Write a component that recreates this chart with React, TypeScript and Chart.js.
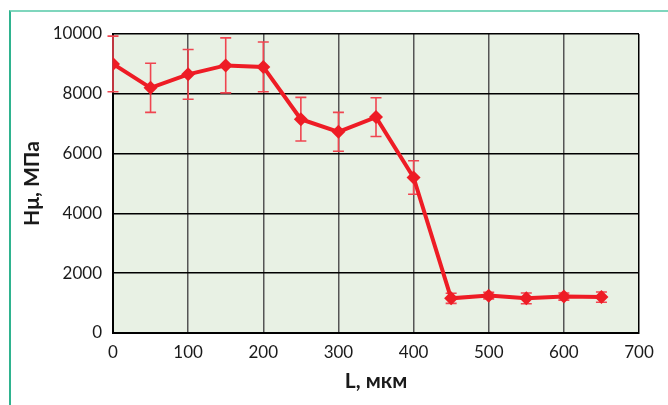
import React, { useEffect, useRef } from "react";
import { Chart, registerables } from "chart.js";

Chart.register(...registerables);

const lengths = [0, 50, 100, 150, 200, 250, 300, 350, 400, 450, 500, 550, 600, 650];
const hardness = [9000, 8200, 8650, 8950, 8900, 7150, 6730, 7220, 5200, 1160, 1250, 1160, 1220, 1200];
const errors = [930, 820, 830, 920, 830, 730, 650, 650, 560, 170, 110, 180, 120, 170];

const xTitle = "L, мкм";
const yTitle = "Hμ, МПа";

const FONT = "Lato, 'DejaVu Sans', sans-serif";

const bgPlugin = {
  id: "plotBg",
  beforeDraw(chart: any) {
    const { ctx, chartArea } = chart;
    if (!chartArea) return;
    ctx.save();
    ctx.fillStyle = "#e8f1e4";
    ctx.fillRect(chartArea.left, chartArea.top, chartArea.right - chartArea.left, chartArea.bottom - chartArea.top);
    ctx.restore();
  },
};

const errorBarPlugin = {
  id: "errorBars",
  beforeDatasetsDraw(chart: any) {
    const { ctx, scales } = chart;
    const xs = scales.x;
    const ys = scales.y;
    ctx.save();
    ctx.strokeStyle = "#ef4550";
    ctx.lineWidth = 1.6;
    for (let i = 0; i < lengths.length; i++) {
      const px = xs.getPixelForValue(lengths[i]);
      const top = ys.getPixelForValue(hardness[i] + errors[i]);
      const bot = ys.getPixelForValue(hardness[i] - errors[i]);
      ctx.beginPath();
      ctx.moveTo(px, top);
      ctx.lineTo(px, bot);
      ctx.moveTo(px - 5.5, top);
      ctx.lineTo(px + 5.5, top);
      ctx.moveTo(px - 5.5, bot);
      ctx.lineTo(px + 5.5, bot);
      ctx.stroke();
    }
    ctx.restore();
  },
};

export default function App() {
  const ref = useRef<HTMLCanvasElement | null>(null);

  useEffect(() => {
    if (!ref.current) return;
    const chart = new Chart(ref.current, {
      type: "line",
      data: {
        datasets: [
          {
            data: lengths.map((l, i) => ({ x: l, y: hardness[i] })),
            borderColor: "#ee1c25",
            backgroundColor: "#ee1c25",
            borderWidth: 4,
            pointStyle: "rectRot",
            pointRadius: 7,
            pointBorderWidth: 0,
            tension: 0,
          },
        ],
      },
      options: {
        animation: false,
        responsive: false,
        maintainAspectRatio: false,
        layout: { padding: { left: 0, top: 34, right: 29, bottom: 0 } },
        plugins: { legend: { display: false }, tooltip: { enabled: false } },
        scales: {
          x: {
            type: "linear",
            min: 0,
            max: 700,
            afterFit(scale: any) {
              scale.height = 72;
            },
            ticks: {
              stepSize: 100,
              padding: 9,
              color: "#1a1a1a",
              font: { family: FONT, size: 17 },
              maxRotation: 0,
              callback: (v: any) => String(v),
            },
            grid: {
              drawTicks: false,
              color: (c: any) => (c.tick && c.tick.value === 700 ? "#000" : "#555"),
              lineWidth: 1.5,
            },
            border: { color: "#000", width: 2 },
            title: {
              display: true,
              text: xTitle,
              color: "#1a1a1a",
              font: { family: FONT, size: 21, weight: "bold" },
              padding: { top: 0, bottom: 11 },
            },
          },
          y: {
            type: "linear",
            min: 0,
            max: 10000,
            afterFit(scale: any) {
              scale.width = 113;
            },
            ticks: {
              stepSize: 2000,
              padding: 11,
              color: "#1a1a1a",
              font: { family: FONT, size: 17 },
              callback: (v: any) => String(v),
            },
            grid: {
              drawTicks: false,
              color: "#000",
              lineWidth: 1.5,
            },
            border: { color: "#000", width: 2 },
            title: {
              display: true,
              text: yTitle,
              color: "#1a1a1a",
              font: { family: FONT, size: 21, weight: "bold" },
              padding: { top: 20, bottom: 0 },
            },
          },
        },
      },
      plugins: [bgPlugin, errorBarPlugin],
    } as any);
    return () => chart.destroy();
  }, []);

  return (
    <div style={{ position: "fixed", left: 0, top: 0, width: 668, height: 405, background: "#fff" }}>
      <div
        style={{
          position: "absolute",
          left: 9,
          top: 10,
          width: 680,
          height: 420,
          borderTop: "2px solid #7fd6bd",
          borderLeft: "2px solid #2fb38f",
        }}
      />
      <canvas ref={ref} width={668} height={405} style={{ position: "absolute", left: 0, top: 0, width: 668, height: 405 }} />
    </div>
  );
}
